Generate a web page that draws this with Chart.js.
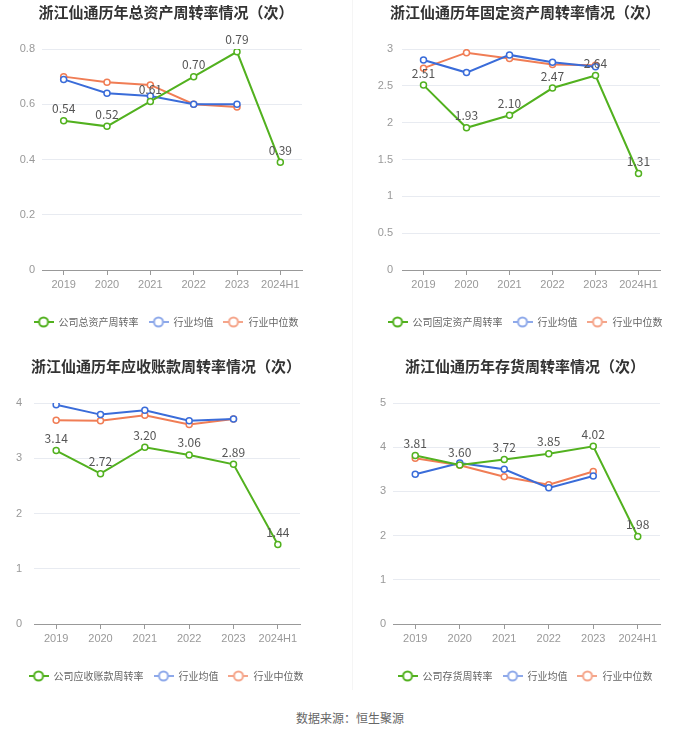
<!DOCTYPE html>
<html>
<head>
<meta charset="utf-8">
<script src="https://cdn.jsdelivr.net/npm/chart.js@4.4.1/dist/chart.umd.min.js"></script>
<style>
  body { margin: 0; background: #fff; width: 700px; height: 734px; position: relative; overflow: hidden; font-family: "Noto Sans CJK SC", "Noto Sans", sans-serif; }
  .box { position: absolute; }
  .sep { position: absolute; left: 352px; top: 0; width: 1px; height: 690px; background: #f5f5f5; }
  .source { position: absolute; left: 0; width: 700px; top: 709px; text-align: center; font-size: 12px; color: #666; }
</style>
</head>
<body>
<div class="sep"></div>
<div class="box" style="left:0;top:0;width:332px;height:345px"><canvas id="c1"></canvas></div>
<div class="box" style="left:350px;top:0;width:350px;height:345px"><canvas id="c2"></canvas></div>
<div class="box" style="left:0;top:354px;width:332px;height:345px"><canvas id="c3"></canvas></div>
<div class="box" style="left:350px;top:354px;width:350px;height:345px"><canvas id="c4"></canvas></div>
<div class="source">数据来源：恒生聚源</div>
<script>
// ----------- DATA ----------- //
const years = ["2019", "2020", "2021", "2022", "2023", "2024H1"];
const legendAvg = "行业均值";
const legendMedian = "行业中位数";

// 总资产周转率
const totalAssetCompany = [0.54, 0.52, 0.61, 0.70, 0.79, 0.39];
const totalAssetAvg = [0.69, 0.64, 0.63, 0.60, 0.60, null];
const totalAssetMedian = [0.70, 0.68, 0.67, 0.60, 0.59, null];

// 固定资产周转率
const fixedAssetCompany = [2.51, 1.93, 2.10, 2.47, 2.64, 1.31];
const fixedAssetAvg = [2.85, 2.68, 2.92, 2.82, 2.76, null];
const fixedAssetMedian = [2.74, 2.95, 2.87, 2.79, 2.78, null];

// 应收账款周转率
const receivableCompany = [3.14, 2.72, 3.20, 3.06, 2.89, 1.44];
const receivableAvg = [3.97, 3.79, 3.87, 3.68, 3.71, null];
const receivableMedian = [3.69, 3.68, 3.78, 3.61, 3.71, null];

// 存货周转率
const inventoryCompany = [3.81, 3.60, 3.72, 3.85, 4.02, 1.98];
const inventoryAvg = [3.39, 3.64, 3.50, 3.08, 3.35, null];
const inventoryMedian = [3.75, 3.59, 3.33, 3.15, 3.45, null];

const GREEN = "#52b11f";
const BLUE = "#3a6cd9";
const ORANGE = "#f07d55";

// legend icon: short line with hollow circle
function legendIcon(color) {
  const c = document.createElement("canvas");
  c.width = 20; c.height = 12;
  const g = c.getContext("2d");
  g.strokeStyle = color;
  g.lineWidth = 2;
  g.beginPath(); g.moveTo(0, 6); g.lineTo(20, 6); g.stroke();
  g.fillStyle = "#fff";
  g.beginPath(); g.arc(10, 6, 4.5, 0, Math.PI * 2); g.fill(); g.stroke();
  return c;
}
const icons = [legendIcon(GREEN), legendIcon("#8ea9ea"), legendIcon("#f5a58a")];

// value labels above the company series
const valueLabels = {
  id: "valueLabels",
  afterDatasetsDraw(chart) {
    const ctx = chart.ctx;
    const meta = chart.getDatasetMeta(0);
    const data = chart.data.datasets[0].data;
    ctx.save();
    ctx.font = "12px 'Noto Sans CJK SC', sans-serif";
    ctx.fillStyle = "#555";
    ctx.textAlign = "center";
    ctx.textBaseline = "middle";
    meta.data.forEach((pt, i) => {
      ctx.fillText(data[i].toFixed(2), pt.x, pt.y - 12);
    });
    ctx.restore();
  }
};

function makeChart(id, title, seriesName, company, avg, median, yMax, yStep, leftW, rightW, tickPad) {
  const ds = (label, data, color, width) => ({
    label, data, borderColor: color, backgroundColor: "#fff",
    borderWidth: width, pointRadius: 3, pointBorderWidth: 1.5,
    pointBackgroundColor: "#fff", pointBorderColor: color, spanGaps: false
  });
  new Chart(document.getElementById(id), {
    type: "line",
    data: {
      labels: years,
      datasets: [
        ds(seriesName, company, GREEN, 2),
        ds(legendAvg, avg, BLUE, 2),
        ds(legendMedian, median, ORANGE, 2)
      ]
    },
    options: {
      responsive: true,
      maintainAspectRatio: false,
      animation: false,
      layout: { padding: { bottom: 8 } },
      plugins: {
        tooltip: { enabled: false },
        title: {
          display: true, text: title, color: "#333",
          font: { size: 15, weight: "bold", family: "'Noto Sans CJK SC', sans-serif" },
          padding: { top: 3, bottom: 28 }
        },
        legend: {
          position: "bottom",
          labels: {
            usePointStyle: true, pointStyleWidth: 20, padding: 10,
            color: "#666", font: { size: 10, family: "'Noto Sans CJK SC', sans-serif" },
            generateLabels(chart) {
              return Chart.defaults.plugins.legend.labels.generateLabels(chart).map((l, i) => {
                l.pointStyle = icons[i];
                return l;
              });
            }
          }
        }
      },
      scales: {
        x: {
          offset: true,
          grid: { drawOnChartArea: false, drawTicks: true, tickLength: 5, color: "#999" },
          border: { color: "#999" },
          ticks: { color: "#999", font: { size: 11 }, padding: 3, maxRotation: 0 },
          afterFit(s) { s.height = 37; }
        },
        y: {
          min: 0, max: yMax,
          grid: { color: "#e8ebf1", drawTicks: false },
          border: { display: false },
          ticks: {
            stepSize: yStep, color: "#999", font: { size: 11 }, padding: tickPad,
            callback: v => String(+v.toFixed(2))
          },
          afterFit(s) { s.width = leftW; }
        },
        pad: {
          position: "right", display: true,
          grid: { display: false }, border: { display: false },
          ticks: { display: false },
          afterFit(s) { s.width = rightW; }
        }
      }
    },
    plugins: [valueLabels]
  });
}

makeChart("c1", "浙江仙通历年总资产周转率情况（次）", "公司总资产周转率",
  totalAssetCompany, totalAssetAvg, totalAssetMedian, 0.8, 0.2, 42, 30, 7);
makeChart("c2", "浙江仙通历年固定资产周转率情况（次）", "公司固定资产周转率",
  fixedAssetCompany, fixedAssetAvg, fixedAssetMedian, 3, 0.5, 52, 40, 9);
makeChart("c3", "浙江仙通历年应收账款周转率情况（次）", "公司应收账款周转率",
  receivableCompany, receivableAvg, receivableMedian, 4, 1, 34, 32, 12);
makeChart("c4", "浙江仙通历年存货周转率情况（次）", "公司存货周转率",
  inventoryCompany, inventoryAvg, inventoryMedian, 5, 1, 43, 40, 7);
</script>
</body>
</html>
